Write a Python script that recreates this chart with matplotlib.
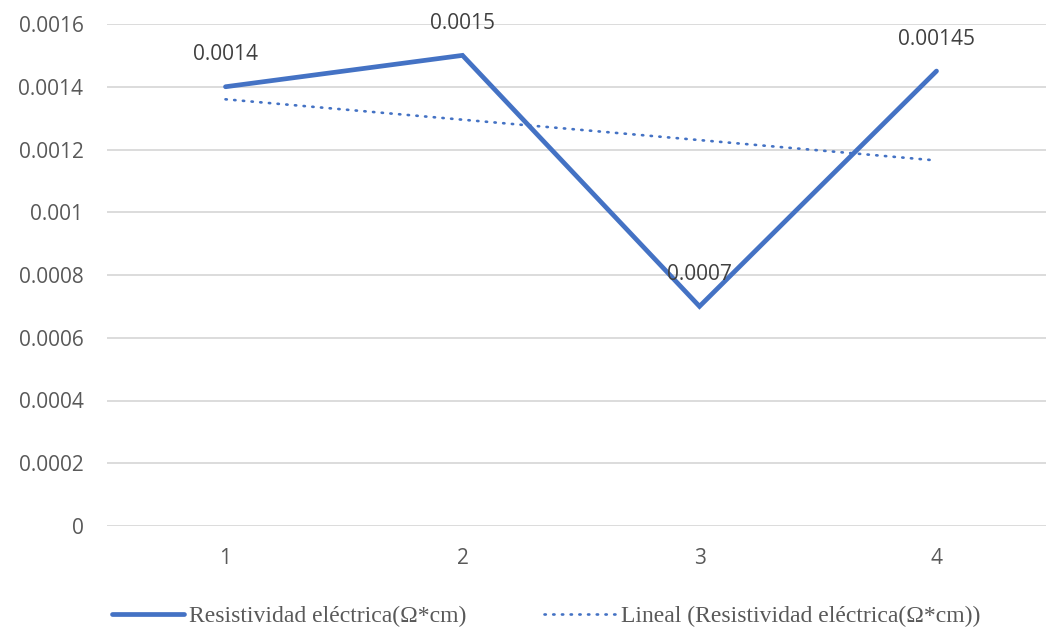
import numpy as np
import matplotlib
matplotlib.use("Agg")
import matplotlib.pyplot as plt

categories = [1, 2, 3, 4]
values = [0.0014, 0.0015, 0.0007, 0.00145]
value_labels = ["0.0014", "0.0015", "0.0007", "0.00145"]
yticks = [0, 0.0002, 0.0004, 0.0006, 0.0008, 0.001, 0.0012, 0.0014, 0.0016]
ytick_labels = ["0", "0.0002", "0.0004", "0.0006", "0.0008", "0.001", "0.0012", "0.0014", "0.0016"]
series_name = "Resistividad eléctrica(Ω*cm)"
trend_name = "Lineal (Resistividad eléctrica(Ω*cm))"

W, H = 1046, 628
fig = plt.figure(figsize=(W / 100, H / 100), dpi=100)
ax = fig.add_axes([107 / W, (H - 526) / H, 948 / W, 502 / H])

blue = "#4472C4"
x = np.array(categories, dtype=float)
y = np.array(values)

ax.plot(x, y, color=blue, lw=3.4, solid_joinstyle="miter", solid_capstyle="round",
        label=series_name, zorder=3)

coef = np.polyfit(x, y, 1)
ax.plot(x, np.polyval(coef, x), color=blue, lw=1.9, linestyle=(0, (0.5, 2.8)),
        dash_capstyle="round", label=trend_name, zorder=3)

for xi, yi, lab in zip(x, y, value_labels):
    ax.annotate(lab, (xi, yi), xytext=(0, 23), textcoords="offset points",
                ha="center", va="center", fontsize=15, color="#404040",
                family="Open Sans", zorder=4)

ax.set_xlim(0.5, 4.5)
ax.set_ylim(0, 0.0016)
ax.set_xticks(categories)
ax.set_xticklabels([str(c) for c in categories])
ax.set_yticks(yticks)
ax.set_yticklabels(ytick_labels)
ax.grid(axis="y", color="#D9D9D9", lw=1.3)
ax.set_axisbelow(True)
for s in ax.spines.values():
    s.set_visible(False)
ax.tick_params(axis="both", length=0, labelsize=15, labelcolor="#595959")
ax.tick_params(axis="y", pad=17)
ax.tick_params(axis="x", pad=16)
for t in ax.get_xticklabels() + ax.get_yticklabels():
    t.set_family("Open Sans")

leg = fig.legend(loc="lower center", ncol=2, frameon=False,
                 bbox_to_anchor=(0.522, -0.033), columnspacing=3.3, handlelength=3.05,
                 handletextpad=0.2, prop={"family": "Liberation Serif", "size": 17})
for t in leg.get_texts():
    t.set_color("#595959")

fig.savefig("out.png", dpi=100)
